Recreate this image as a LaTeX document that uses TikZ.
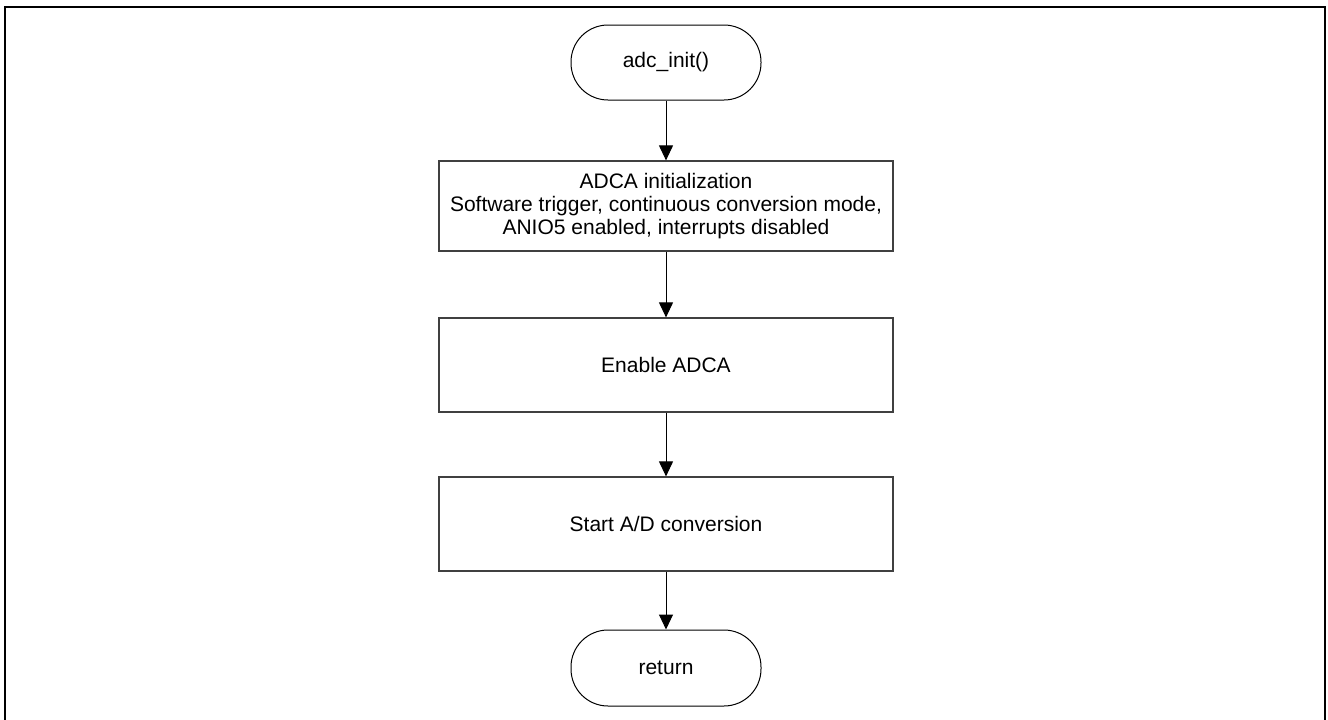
\documentclass[tikz,border=0pt]{standalone}
\usepackage{fontspec}
\setmainfont{Liberation Sans}
\usetikzlibrary{arrows.meta}
\tikzset{
  terminal/.style={draw=black, line width=1pt, rounded corners=37pt,
    minimum width=190pt, minimum height=75pt, inner sep=0pt,
    font=\fontsize{21}{23}\selectfont},
  procbox/.style={draw=black!75, line width=1.2pt, minimum width=454pt,
    inner sep=0pt, align=center, font=\fontsize{21}{23}\selectfont},
  flow/.style={line width=1pt, -{Triangle[length=15pt,width=14pt]}},
  frame/.style={line width=2.6pt, line cap=rect}
}
\begin{document}
\begin{tikzpicture}[x=1pt,y=-1pt]
  \useasboundingbox (0,0) rectangle (1328,720);
  % outer frame, open at the bottom
  \coordinate (fbl) at (5,722);
  \coordinate (ftl) at (5,7);
  \coordinate (ftr) at (1325,7);
  \coordinate (fbr) at (1325,722);
  \draw[frame] (fbl) -- (ftl) -- (ftr) -- (fbr);

  \node[terminal] (start) at (666,62.5) {adc\_init()};
  \node[procbox, minimum height=90pt] (init) at (666,206)
    {ADCA initialization\\Software trigger, continuous conversion mode,\\ANIO5 enabled, interrupts disabled};
  \node[procbox, minimum height=94pt] (enable) at (666,365) {Enable ADCA};
  \node[procbox, minimum height=94pt] (conv) at (666,524) {Start A/D conversion};
  \node[terminal, minimum height=76pt] (ret) at (666,668) {return};

  \draw[flow] (start) -- (init);
  \draw[flow] (init) -- (enable);
  \draw[flow] (enable) -- (conv);
  \draw[flow] (conv) -- (ret);
\end{tikzpicture}
\end{document}
